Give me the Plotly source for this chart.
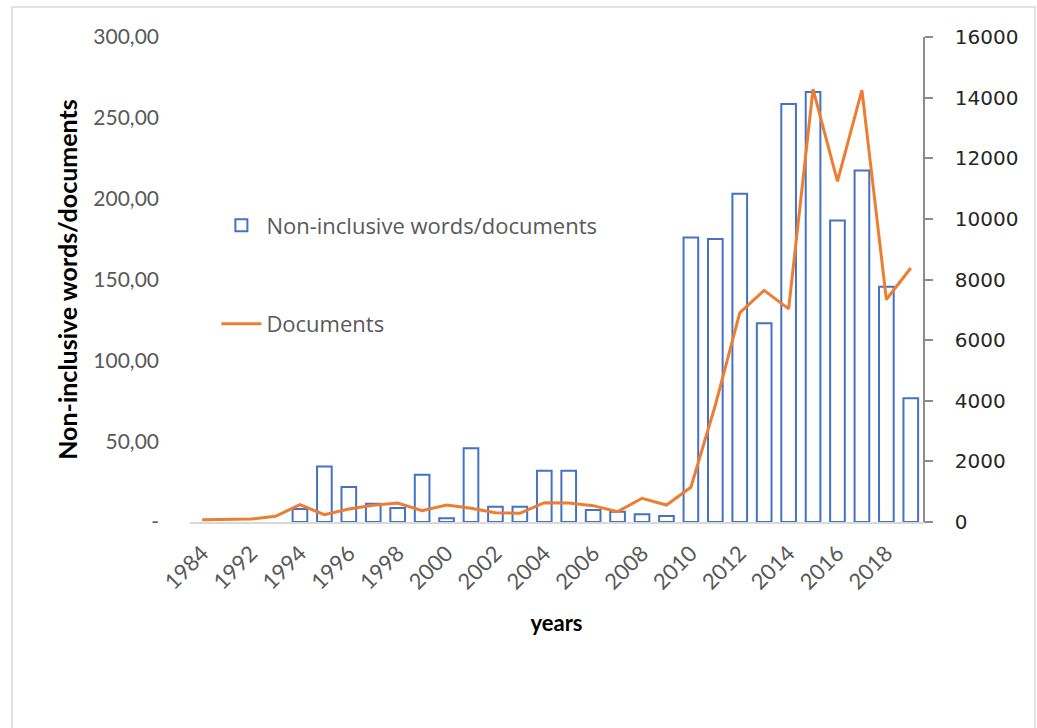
import plotly.graph_objects as go

# Publication years (category axis, labels shown on every other one)
years = ["1984", "1990", "1992", "1993", "1994", "1995", "1996", "1997", "1998",
         "1999", "2000", "2001", "2002", "2003", "2004", "2005", "2006", "2007",
         "2008", "2009", "2010", "2011", "2012", "2013", "2014", "2015", "2016",
         "2017", "2018", "2019"]

# Non-inclusive words per document (left axis)
words_per_doc = [None, None, None, None, 8.0, 34.4, 21.6, 11.3, 8.6, 29.2,
                 2.3, 45.6, 9.5, 9.5, 31.7, 31.7, 7.4, 6.4, 4.8, 3.7,
                 176, 175, 203, 123, 258.5, 266, 186.5, 217.5, 145.5, 76.5]

# Number of documents (right axis)
documents = [76, 76, 100, 187, 571, 242, 429, 550, 627, 374,
             561, 452, 308, 286, 637, 630, 539, 341, 782, 560,
             1145, 3850, 6900, 7640, 7030, 14280, 11240, 14250, 7340, 8380]

left_ticks = [0, 50, 100, 150, 200, 250, 300]
left_ticktext = ["-", "50,00", "100,00", "150,00", "200,00", "250,00", "300,00"]

BLUE = "#4472C4"
ORANGE = "#ED7D31"
GREY_TXT = "#595959"

fig = go.Figure()

fig.add_trace(go.Bar(
    x=years, y=words_per_doc, name="Non-inclusive words/documents",
    marker=dict(color="white", line=dict(color=BLUE, width=2)),
    width=0.6, yaxis="y", legendgroup="a",
))

fig.add_trace(go.Scatter(
    x=years, y=documents, name="Documents", mode="lines",
    line=dict(color=ORANGE, width=3), yaxis="y2", legendgroup="b",
))

fig.update_layout(
    width=1037, height=728,
    margin=dict(l=190, r=114, t=37, b=206),
    paper_bgcolor="white", plot_bgcolor="white",
    showlegend=True,
    legend=dict(
        x=0.036, y=0.655, xanchor="left", yanchor="top",
        bgcolor="rgba(0,0,0,0)", traceorder="grouped", tracegroupgap=67,
        font=dict(family="Open Sans", size=22, color=GREY_TXT),
        itemwidth=40,
    ),
    xaxis=dict(
        type="category", categoryorder="array", categoryarray=years,
        tickvals=years[::2], ticktext=years[::2],
        tickangle=-45, showgrid=False, zeroline=False,
        showline=True, linecolor="#d9d9d9", linewidth=1.5,
        ticks="", ticklabelstandoff=8,
        tickfont=dict(family="Lato", size=22, color=GREY_TXT),
        title=dict(text="<b>years</b>", standoff=22,
                   font=dict(family="Lato", size=22, color="#000000")),
        range=[-0.5, len(years) - 0.5],
    ),
    yaxis=dict(
        range=[0, 300], tickvals=left_ticks, ticktext=left_ticktext,
        showgrid=False, zeroline=False, showline=False, ticks="",
        ticklabelstandoff=30,
        tickfont=dict(family="Lato", size=21, color=GREY_TXT),
        title=dict(text="<b>Non-inclusive words/documents</b>", standoff=8,
                   font=dict(family="Lato", size=25, color="#000000")),
    ),
    yaxis2=dict(
        range=[0, 16000], dtick=2000, tickformat="d",
        overlaying="y", side="right",
        showgrid=False, zeroline=False,
        showline=True, linecolor="#8c8c8c", linewidth=1.5,
        ticks="outside", ticklen=8, tickcolor="#8c8c8c", tickwidth=1.5,
        ticklabelstandoff=18,
        tickfont=dict(family="DejaVu Sans", size=20, color="#262626"),
    ),
    shapes=[dict(
        type="rect", xref="paper", yref="paper",
        x0=(12 - 190) / 733, x1=(1035 - 190) / 733,
        y0=-0.5, y1=(522 - 7) / 485,
        line=dict(color="#d9d9d9", width=1.5), fillcolor="rgba(0,0,0,0)",
        layer="below",
    )],
)

fig.write_html("out.html")
